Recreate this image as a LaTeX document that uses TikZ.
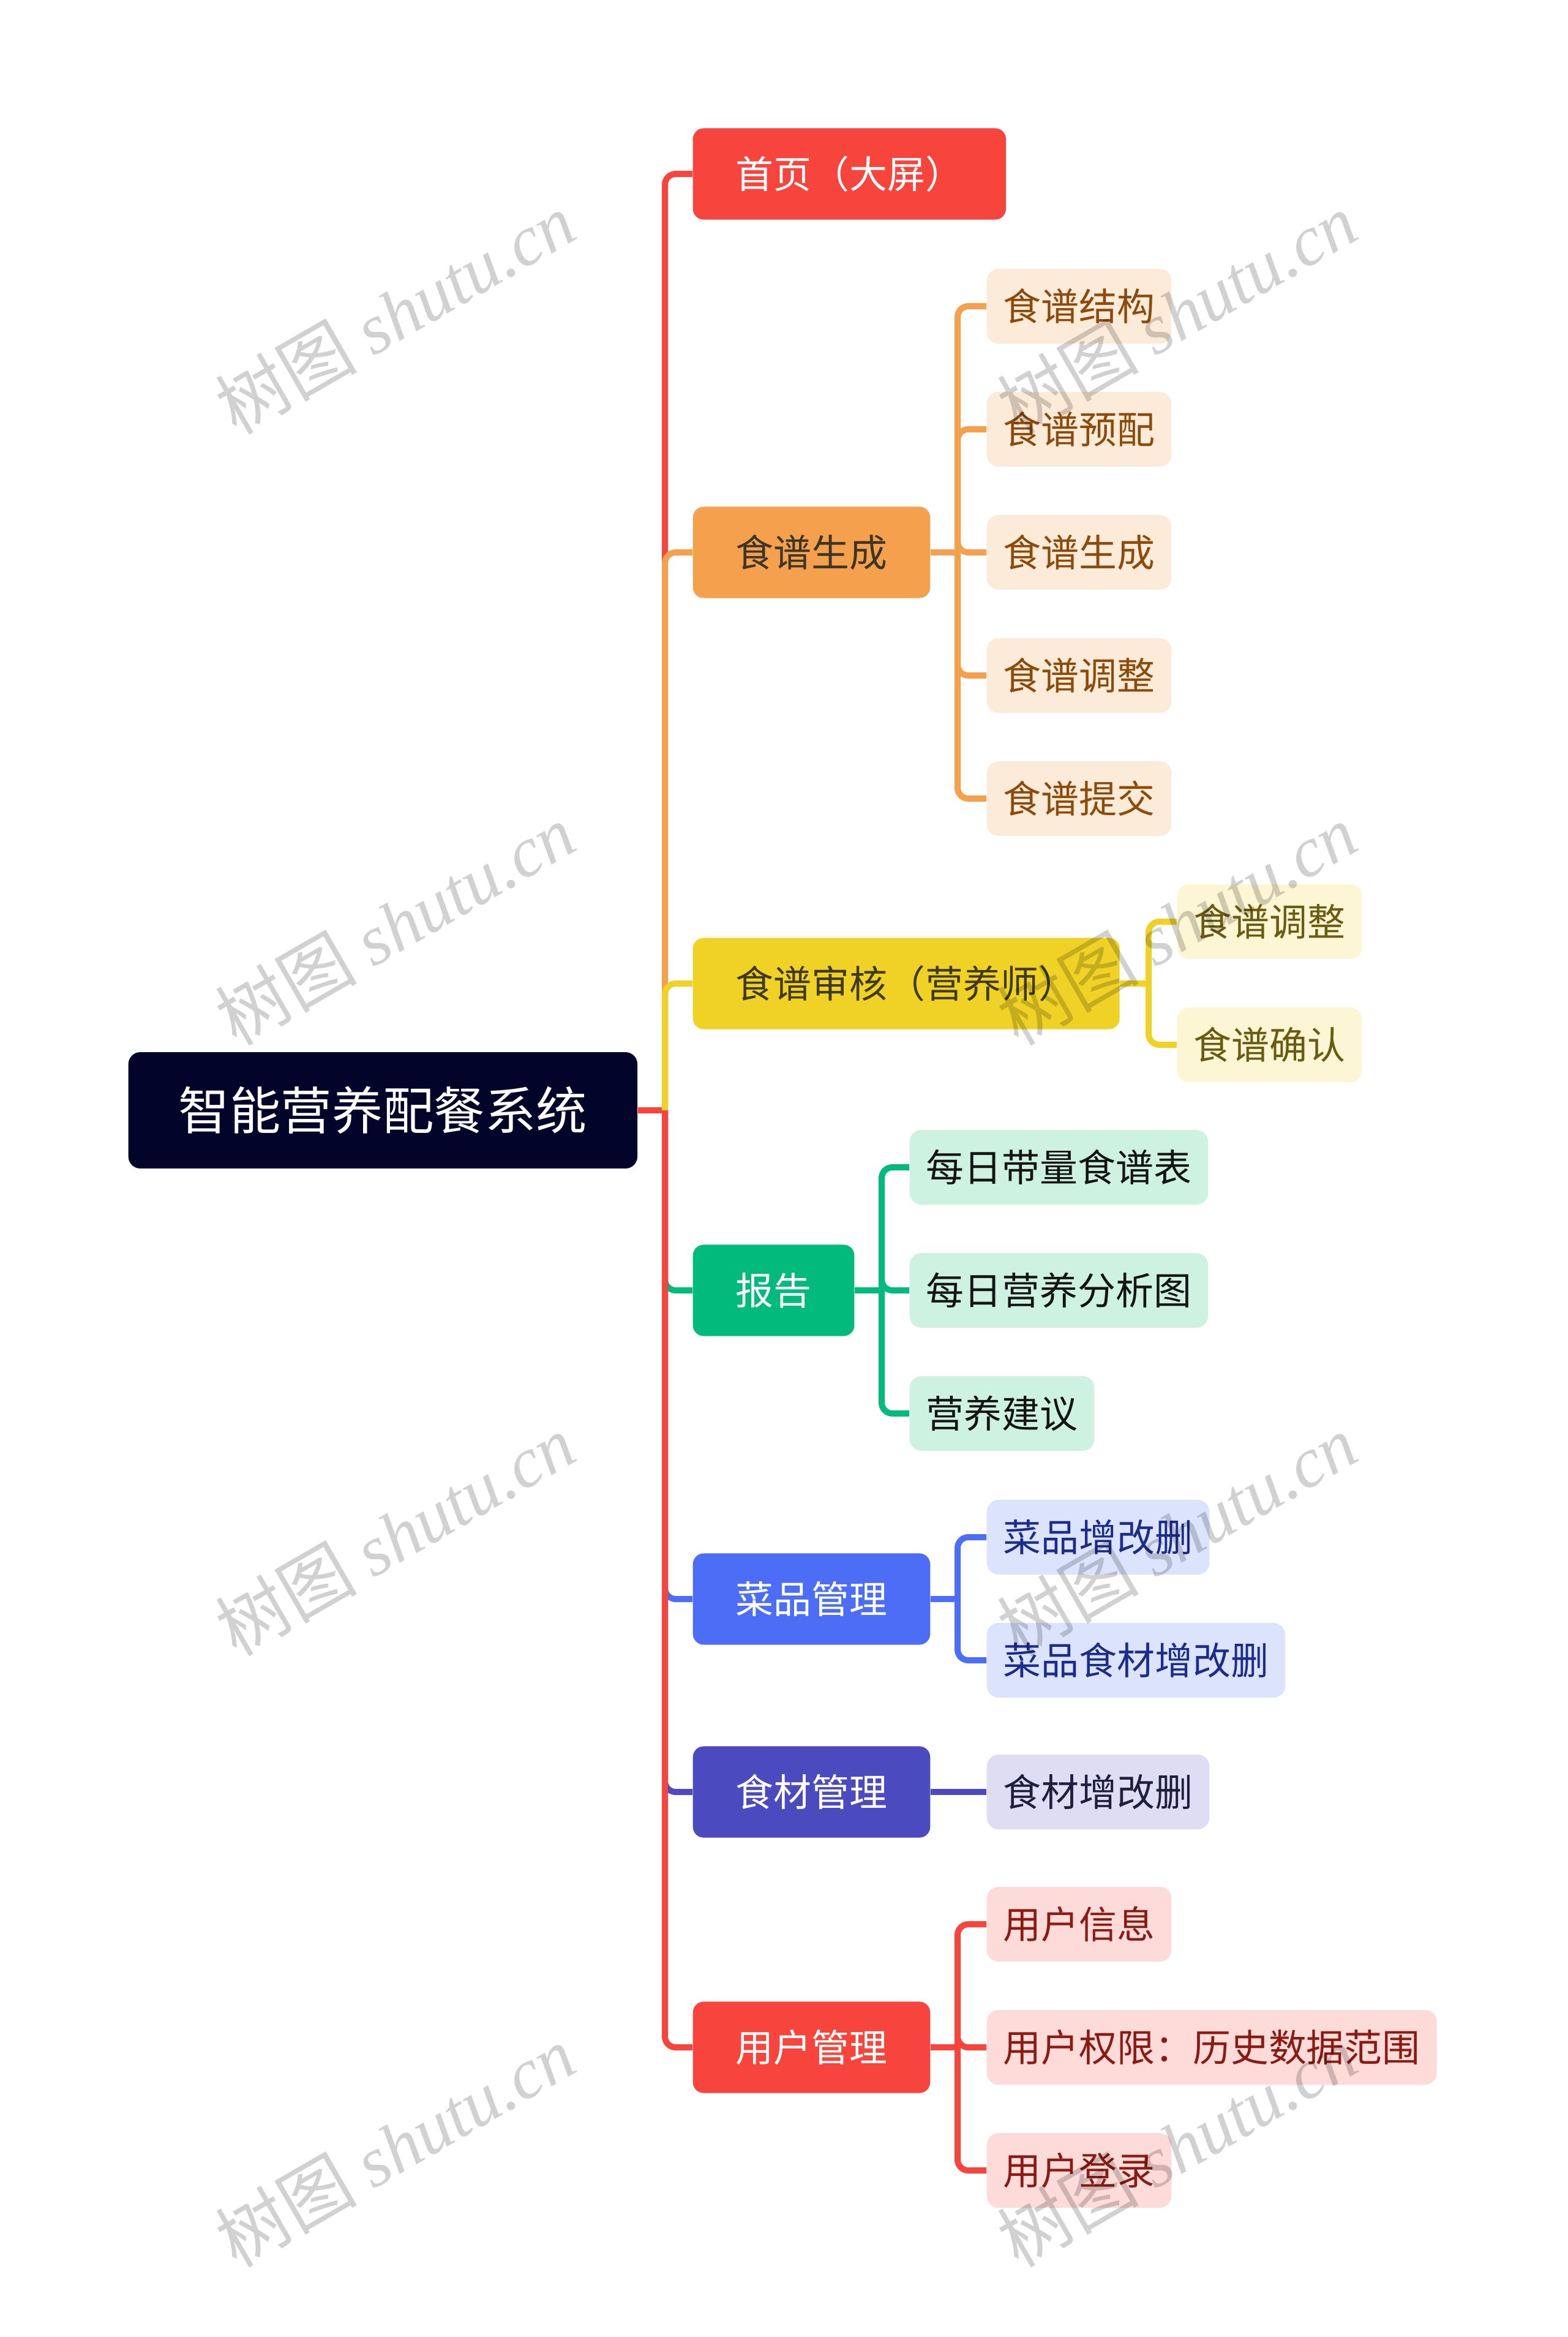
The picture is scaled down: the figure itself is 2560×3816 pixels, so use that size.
\documentclass[tikz,border=0pt]{standalone}
\usepackage{fontspec}
\newfontfamily\cjk{Noto Sans CJK SC}
\newfontfamily\wmlat{Liberation Serif}
\definecolor{rootc}{HTML}{03042A}
\definecolor{redA}{HTML}{F7453D}
\definecolor{orangeA}{HTML}{F4A04C}
\definecolor{yellowA}{HTML}{F0D226}
\definecolor{greenA}{HTML}{02BA7B}
\definecolor{blueA}{HTML}{4C6EF7}
\definecolor{indigoA}{HTML}{4B4BBF}
\definecolor{orangeT}{HTML}{3E3529}
\definecolor{yellowT}{HTML}{3F3A1C}
\definecolor{orangeL}{HTML}{FDEBD9}
\definecolor{orangeD}{HTML}{8C4A0B}
\definecolor{yellowL}{HTML}{FCF6D4}
\definecolor{yellowD}{HTML}{6B5A12}
\definecolor{greenL}{HTML}{CEF2E2}
\definecolor{greenD}{HTML}{141414}
\definecolor{blueL}{HTML}{DCE3FD}
\definecolor{blueD}{HTML}{1C2C8A}
\definecolor{indigoL}{HTML}{DEDDF4}
\definecolor{indigoD}{HTML}{1F1F3D}
\definecolor{redL}{HTML}{FDDBD8}
\definecolor{redD}{HTML}{8A1A12}
\tikzset{
  rootbox/.style={anchor=west, fill=rootc, text=white, rounded corners=5.5pt,
    inner xsep=23.4pt, inner ysep=0pt, minimum height=54pt,
    font=\cjk\fontsize{23.7}{23.7}\selectfont},
  lone/.style={anchor=west, rounded corners=5pt, inner xsep=19.9pt, inner ysep=0pt,
    minimum height=42.4pt, font=\cjk\fontsize{17.6}{17.6}\selectfont},
  ltwo/.style={anchor=west, rounded corners=5.5pt, inner xsep=7.7pt, inner ysep=0pt,
    minimum height=34.7pt, font=\cjk\fontsize{17.6}{17.6}\selectfont},
  orangebox/.style={ltwo, fill=orangeL, text=orangeD},
  yellowbox/.style={ltwo, fill=yellowL, text=yellowD},
  greenbox/.style={ltwo, fill=greenL, text=greenD},
  bluebox/.style={ltwo, fill=blueL, text=blueD},
  indigobox/.style={ltwo, fill=indigoL, text=indigoD},
  redbox/.style={ltwo, fill=redL, text=redD},
  conn/.style={line width=2.85pt, rounded corners=5pt},
  wm/.style={text=black, text opacity=0.18, rotate=30, inner sep=0pt,
    font=\cjk\fontsize{33}{33}\selectfont}
}
\begin{document}
\begin{tikzpicture}[x=0.01cm, y=-0.01cm]
\useasboundingbox (0,0) rectangle (2560,3816);
% root
\node[rootbox] (root) at (209,1813) {智能营养配餐系统};
% level 1
\node[lone, fill=redA, text=white] (n1) at (1131,284) {首页（大屏）};
\node[lone, fill=orangeA, text=orangeT] (n2) at (1131,902) {食谱生成};
\node[lone, fill=yellowA, text=yellowT] (n3) at (1131,1606) {食谱审核（营养师）};
\node[lone, fill=greenA, text=white] (n4) at (1131,2107) {报告};
\node[lone, fill=blueA, text=white] (n5) at (1131,2611) {菜品管理};
\node[lone, fill=indigoA, text=white] (n6) at (1131,2926) {食材管理};
\node[lone, fill=redA, text=white] (n7) at (1131,3343) {用户管理};
% level 2
\node[orangebox] (c21) at (1611,500) {食谱结构};
\node[orangebox] (c22) at (1611,701) {食谱预配};
\node[orangebox] (c23) at (1611,902) {食谱生成};
\node[orangebox] (c24) at (1611,1103) {食谱调整};
\node[orangebox] (c25) at (1611,1304) {食谱提交};
\node[yellowbox] (c31) at (1922,1505) {食谱调整};
\node[yellowbox] (c32) at (1922,1706) {食谱确认};
\node[greenbox] (c41) at (1485,1906) {每日带量食谱表};
\node[greenbox] (c42) at (1485,2107) {每日营养分析图};
\node[greenbox] (c43) at (1485,2308) {营养建议};
\node[bluebox] (c51) at (1611,2510) {菜品增改删};
\node[bluebox] (c52) at (1611,2711) {菜品食材增改删};
\node[indigobox] (c61) at (1611,2926) {食材增改删};
\node[redbox] (c71) at (1611,3142) {用户信息};
\node[redbox] (c72) at (1611,3343) {用户权限：历史数据范围};
\node[redbox] (c73) at (1611,3544) {用户登录};
% trunk
\coordinate (tj) at (1086,1813);
\coordinate (tjr) at (1091,1813);
\draw[conn, redA] (root.east) -- (tjr);
\draw[conn, redA] (tj) |- (n1.west);
\draw[conn, orangeA] (tj) |- (n2.west);
\draw[conn, yellowA] (tj) |- (n3.west);
\draw[conn, greenA] (tj) |- (n4.west);
\draw[conn, blueA] (tj) |- (n5.west);
\draw[conn, indigoA] (tj) |- (n6.west);
\draw[conn, redA] (tj) |- (n7.west);
% orange group
\coordinate (b2) at (1564,902);
\draw[conn, orangeA] (n2.east) -- (b2);
\foreach \c in {c21,c22,c23,c24,c25} \draw[conn, orangeA] (b2) |- (\c.west);
% yellow group
\coordinate (b3) at (1876,1606);
\draw[conn, yellowA] (n3.east) -- (b3);
\foreach \c in {c31,c32} \draw[conn, yellowA] (b3) |- (\c.west);
% green group
\coordinate (b4) at (1440,2107);
\draw[conn, greenA] (n4.east) -- (b4);
\foreach \c in {c41,c42,c43} \draw[conn, greenA] (b4) |- (\c.west);
% blue group
\coordinate (b5) at (1564,2611);
\draw[conn, blueA] (n5.east) -- (b5);
\foreach \c in {c51,c52} \draw[conn, blueA] (b5) |- (\c.west);
% indigo group
\draw[conn, indigoA] (n6.east) -- (c61.west);
% red group
\coordinate (b7) at (1564,3343);
\draw[conn, redA] (n7.east) -- (b7);
\foreach \c in {c71,c72,c73} \draw[conn, redA] (b7) |- (\c.west);
% watermarks
\node[wm] (w1) at (645,511) {树图 {\wmlat\itshape shutu.cn}};
\node[wm] (w2) at (1922,511) {树图 {\wmlat\itshape shutu.cn}};
\node[wm] (w3) at (645,1509) {树图 {\wmlat\itshape shutu.cn}};
\node[wm] (w4) at (1922,1509) {树图 {\wmlat\itshape shutu.cn}};
\node[wm] (w5) at (645,2506) {树图 {\wmlat\itshape shutu.cn}};
\node[wm] (w6) at (1922,2506) {树图 {\wmlat\itshape shutu.cn}};
\node[wm] (w7) at (645,3504) {树图 {\wmlat\itshape shutu.cn}};
\node[wm] (w8) at (1922,3504) {树图 {\wmlat\itshape shutu.cn}};
\end{tikzpicture}
\end{document}
